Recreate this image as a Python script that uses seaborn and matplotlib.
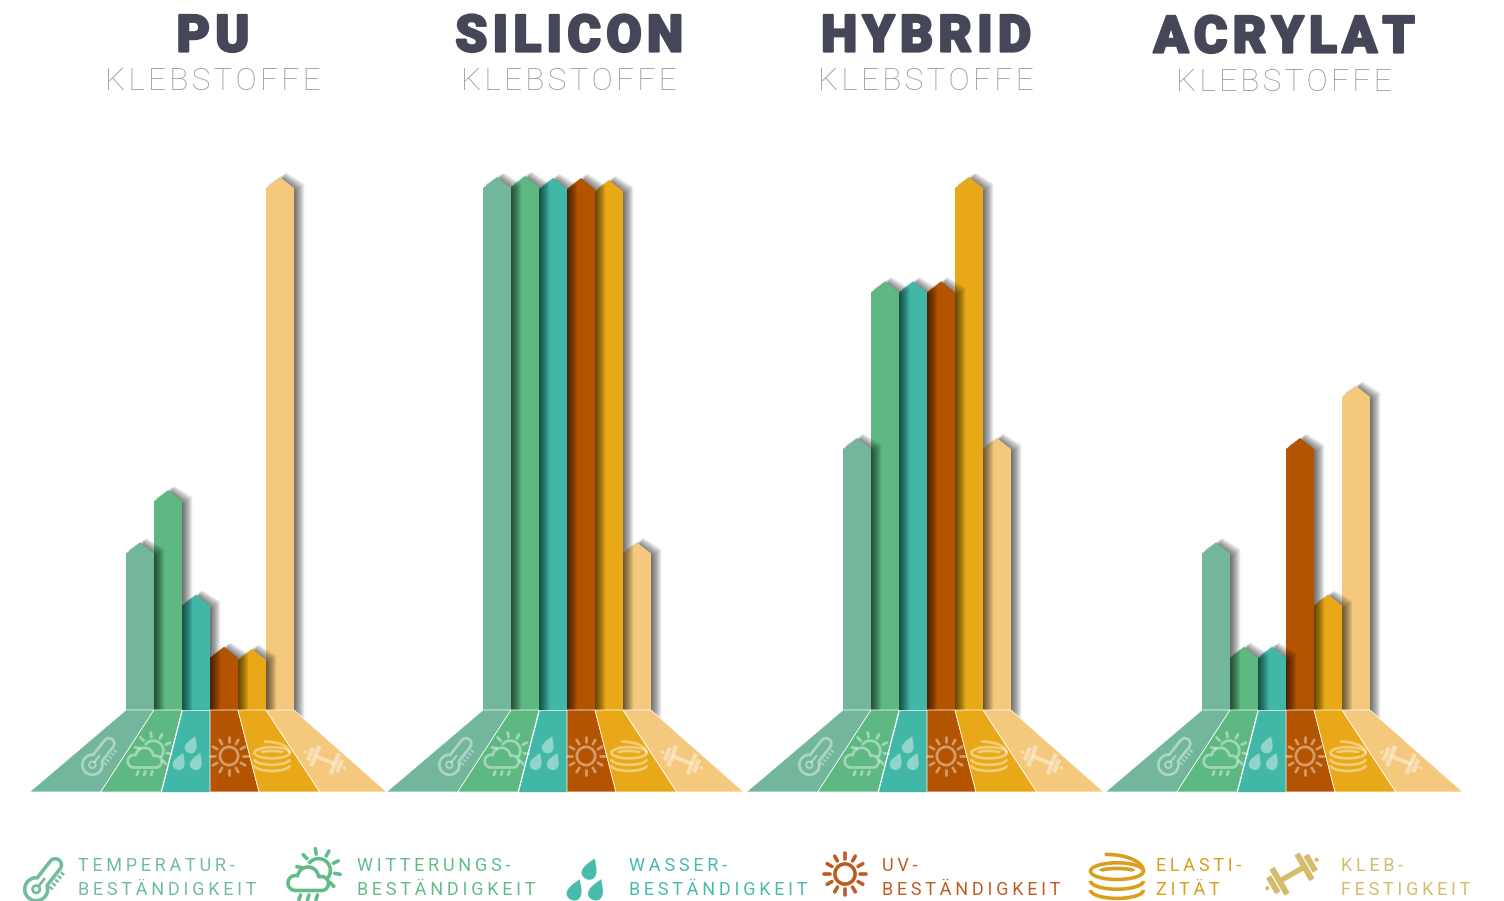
import numpy as np
import pandas as pd
import matplotlib
matplotlib.use("Agg")
import matplotlib.pyplot as plt
import matplotlib.patheffects as pe
import seaborn as sns
from matplotlib.patches import Polygon, Circle, Arc, Rectangle, FancyBboxPatch, Ellipse
from matplotlib.transforms import Affine2D

# Adhesive families and the rating of each property
families = ["PU", "SILICON", "HYBRID", "ACRYLAT"]
subtitle = "KLEBSTOFFE"
properties = ["Temperatur", "Witterung", "Wasser", "UV", "Elastizität", "Klebfestigkeit"]
pu_values = [30, 40, 20, 10, 9.6, 100]
silicon_values = [100, 100.2, 99.8, 99.8, 99.4, 30]
hybrid_values = [50, 80, 80, 80, 100, 50]
acrylat_values = [30, 10, 10, 50, 20, 60]
legend_lines = [("TEMPERATUR-", "BESTÄNDIGKEIT"), ("WITTERUNGS-", "BESTÄNDIGKEIT"),
                ("WASSER-", "BESTÄNDIGKEIT"), ("UV-", "BESTÄNDIGKEIT"),
                ("ELASTI-", "ZITÄT"), ("KLEB-", "FESTIGKEIT")]

bar_colors = ["#72B69B", "#5DB882", "#40B7A7", "#B45300", "#E9A817", "#F4C97E"]
legend_colors = ["#72BC9C", "#62BC88", "#47BBAC", "#BE5B22", "#D99E1C", "#D3BC6C"]
INK = "#454658"
SOFT = "#96969C"

W, H = 1504, 901
BASE_Y, FAN_Y = 710, 792
BAR_W = 28.0
PX_PER_UNIT = 5.22
panel_left = [126, 483, 843, 1202]
panel_center = [213, 569, 926, 1284]
fan_spread = [-96.5, -53.3, -21, 0, 21, 53.8, 92.8]

sns.set_theme(style="white")
fig = plt.figure(figsize=(W / 100, H / 100), dpi=100, facecolor="white")


def add_bar_panel(left, values):
    """Seaborn bars with pointed caps and soft drop shadows."""
    ax_left, ax_w = left - 2 * BAR_W, 10 * BAR_W
    ax_bottom, ax_top = BASE_Y + 8, 130
    ax = fig.add_axes([ax_left / W, 1 - ax_bottom / H, ax_w / W, (ax_bottom - ax_top) / H])
    df = pd.DataFrame({"property": properties, "value": values})
    sns.barplot(data=df, x="property", y="value", hue="property", order=properties,
                hue_order=properties, palette=bar_colors, saturation=1, width=1,
                dodge=False, legend=False, linewidth=0, ax=ax)
    ax.set_xlim(-2.5, 7.5)
    ax.set_ylim(-8 / PX_PER_UNIT, (BASE_Y - ax_top) / PX_PER_UNIT)
    ax.axis("off")
    ax.patch.set_alpha(0)
    ux, uy = 1 / BAR_W, 1 / PX_PER_UNIT
    bars = sorted(ax.patches, key=lambda b: b.get_x())
    for i, bar in enumerate(bars):
        z = 20 - 2 * i
        x0, x1, h = bar.get_x(), bar.get_x() + bar.get_width(), bar.get_height()
        bar.set_zorder(z)
        apex = h + 11 * uy
        ax.add_patch(Polygon([(x0, h - 1.5 * uy), (x0, h), ((x0 + x1) / 2, apex), (x1, h), (x1, h - 1.5 * uy)],
                             closed=True, fc=bar.get_facecolor(), ec="none", zorder=z))
        for g in np.arange(-3, 8, 0.5):
            sx0, sx1 = x0 + 3 * ux, x1 + (3 + g) * ux
            top = h + (0.8 * g - 1.5) * uy
            peak = apex + (0.8 * g - 1.5) * uy
            ax.add_patch(Polygon([(sx0, -8 * uy), (sx0, top), ((sx0 + sx1) / 2, peak),
                                  (sx1, top), (sx1, -(2 + g) * uy)], closed=True,
                                 fc="black", ec="none", alpha=0.035, zorder=z - 0.5))
    return ax


for left, vals in zip(panel_left, [pu_values, silicon_values, hybrid_values, acrylat_values]):
    add_bar_panel(left, vals)

# Pixel-space layer for the fans, icons and all lettering
ov = fig.add_axes([0, 0, 1, 1], zorder=50)
ov.set_xlim(0, W)
ov.set_ylim(H, 0)
ov.axis("off")
ov.patch.set_alpha(0)


def at(cx, cy, s, angle=0):
    return Affine2D().rotate_deg(angle).scale(s).translate(cx, cy) + ov.transData


def thermometer(cx, cy, s, color, alpha=1.0, lw=3.0):
    tr = at(cx, cy, s, 38)
    t1 = np.linspace(np.pi, 2 * np.pi, 20)
    cap = np.c_[0.27 * np.cos(t1), -0.72 + 0.27 * np.sin(t1)]
    a = np.arcsin(0.27 / 0.5)
    t2 = np.linspace(-np.pi / 2 + a, 3 * np.pi / 2 - a, 40)
    bulb = np.c_[0.5 * np.cos(t2), 0.62 + 0.5 * np.sin(t2)]
    ov.add_patch(Polygon(np.r_[cap, bulb], closed=True, fc="none", ec=color, lw=lw, alpha=alpha,
                         transform=tr, joinstyle="round"))
    ov.add_patch(Circle((0, 0.62), 0.16, fc="none", ec=color, lw=lw * 0.75, alpha=alpha, transform=tr))
    ov.plot([0, 0], [0.45, 0.05], color=color, lw=lw * 0.75, alpha=alpha, transform=tr, solid_capstyle="round")
    for k in range(5):
        y = -0.62 + k * 0.2
        ov.plot([0.38, 0.58], [y, y], color=color, lw=lw * 0.6, alpha=alpha, transform=tr, solid_capstyle="butt")


def cloud(cx, cy, s, color, alpha=1.0, lw=3.0):
    tr = at(cx, cy, s)
    kw = dict(ec=color, lw=lw, alpha=alpha, transform=tr, fc="none")
    ov.add_patch(Arc((0.3, -0.3), 0.95, 0.95, theta1=215, theta2=400, **kw))
    for deg in range(-170, 50, 36):
        r = np.deg2rad(deg)
        ov.plot([0.3 + 0.66 * np.cos(r), 0.3 + 0.88 * np.cos(r)],
                [-0.3 + 0.66 * np.sin(r), -0.3 + 0.88 * np.sin(r)],
                color=color, lw=lw, alpha=alpha, transform=tr, solid_capstyle="round")
    t = np.linspace(np.pi / 2, 3 * np.pi / 2, 16)
    left = np.c_[-0.62 + 0.3 * np.cos(t), 0.2 + 0.3 * np.sin(t)]
    t = np.linspace(np.pi * 1.05, np.pi * 1.95, 16)
    mid = np.c_[-0.12 + 0.42 * np.cos(t), -0.02 + 0.42 * np.sin(t)]
    t = np.linspace(-np.pi * 0.6, np.pi / 2, 16)
    right = np.c_[0.42 + 0.28 * np.cos(t), 0.22 + 0.28 * np.sin(t)]
    ov.add_patch(Polygon(np.r_[left, mid, right], closed=True, fc="none", ec=color, lw=lw,
                         alpha=alpha, transform=tr, joinstyle="round"))
    for x in (-0.42, -0.08, 0.26):
        ov.plot([x, x - 0.06], [0.68, 0.86], color=color, lw=lw, alpha=alpha, transform=tr, solid_capstyle="round")


def drops(cx, cy, s, color, alpha=1.0):
    t = np.linspace(0, 2 * np.pi, 70)
    shape = np.c_[0.5 * np.sin(t) * np.abs(np.sin(t / 2)) ** 1.3, -0.56 * np.cos(t) + 0.06]
    for dx, dy in [(0.2, -0.52), (-0.55, 0.52), (0.52, 0.52)]:
        ov.add_patch(Polygon(shape, closed=True, fc=color, ec="none", alpha=alpha,
                             transform=Affine2D().rotate_deg(22).translate(dx, dy).scale(s).translate(cx, cy) + ov.transData))


def sun(cx, cy, s, color, alpha=1.0, lw=3.0):
    tr = at(cx, cy, s)
    ov.add_patch(Circle((0, 0), 0.48, fc="none", ec=color, lw=lw, alpha=alpha, transform=tr))
    for k in range(12):
        a = np.deg2rad(k * 30)
        ov.plot([0.72 * np.cos(a), 0.98 * np.cos(a)], [0.72 * np.sin(a), 0.98 * np.sin(a)],
                color=color, lw=lw, alpha=alpha, transform=tr, solid_capstyle="round")


def coil(cx, cy, s, color, alpha=1.0, lw=3.0):
    tr = at(cx, cy, s)
    kw = dict(ec=color, lw=lw, alpha=alpha, transform=tr, fc="none")
    ov.add_patch(Ellipse((0, -0.18), 1.96, 0.62, **kw))
    ov.add_patch(Arc((0, -0.18), 1.2, 0.2, theta1=180, theta2=360, **kw))
    ov.add_patch(Arc((0, 0.18), 1.96, 0.62, theta1=0, theta2=180, **kw))
    ov.add_patch(Arc((0, 0.52), 1.96, 0.62, theta1=0, theta2=180, **kw))
    t = np.linspace(-np.pi / 2, 0, 20)
    ov.plot(-0.4 + 1.38 * np.cos(t), -0.18 + 0.62 * np.sin(t), color=color, lw=lw, alpha=alpha,
            transform=tr, solid_capstyle="round")


def dumbbell(cx, cy, s, color, angle, alpha=1.0):
    tr = at(cx, cy, s, angle)
    kw = dict(fc=color, ec="none", alpha=alpha, transform=tr)
    ov.add_patch(Rectangle((-0.5, -0.09), 1.0, 0.18, **kw))
    for sign in (-1, 1):
        for x, w, h in [(0.48, 0.2, 1.0), (0.72, 0.2, 0.62)]:
            xc = sign * x
            ov.add_patch(FancyBboxPatch((xc - w / 2 + 0.03, -h / 2 + 0.03), w - 0.06, h - 0.06,
                                        boxstyle="round,pad=0.03", mutation_scale=1, **kw))
        ov.add_patch(Circle((sign * 0.95, 0), 0.07, **kw))


def tracked(text, n):
    return ("\u200a" * n).join(text)


def icon_set(positions, sizes, colors, alpha, lw, bell_angle):
    thermometer(*positions[0], sizes[0], colors[0], alpha, lw)
    cloud(*positions[1], sizes[1], colors[1], alpha, lw)
    drops(*positions[2], sizes[2], colors[2], alpha)
    sun(*positions[3], sizes[3], colors[3], alpha, lw)
    coil(*positions[4], sizes[4], colors[4], alpha, lw)
    dumbbell(*positions[5], sizes[5], colors[5], bell_angle, alpha)


icon_dx = [-26, 21, 63, 103, 146, 199]
icon_y = [755, 757, 752, 756, 756, 760]
for left, center, fam in zip(panel_left, panel_center, families):
    for i, col in enumerate(bar_colors):
        top_l, top_r = left + i * BAR_W, left + (i + 1) * BAR_W
        ov.add_patch(Polygon([(top_l, BASE_Y), (top_r, BASE_Y),
                              (top_r + fan_spread[i + 1], FAN_Y), (top_l + fan_spread[i], FAN_Y)],
                             closed=True, fc=col, ec="#FFFFFF", lw=0.5))
    pos = [(left + d, y) for d, y in zip(icon_dx, icon_y)]
    icon_set(pos, [20, 21, 16, 19, 18, 22], ["white"] * 6, 0.42, 2.0, 22)
    dy = 1 if fam == "ACRYLAT" else 0
    ov.text(center, 51.5 + dy, tracked(fam, 1), ha="center", va="baseline", color=INK, fontsize=37,
            family=["Roboto", "DejaVu Sans"], weight="black",
            path_effects=[pe.withStroke(linewidth=1.6, foreground=INK)])
    ov.text(center, 90 + dy, tracked(subtitle, 1), ha="center", va="baseline", color=SOFT, fontsize=22.8,
            family=["Roboto", "DejaVu Sans"], weight="light")

legend_pos = [(45, 878), (311, 878), (587, 878), (845, 874), (1117, 876), (1292, 874)]
icon_set(legend_pos, [23, 25, 20, 21, 27, 30], legend_colors, 1.0, 2.6, -30)
legend_x = [78, 357, 629, 882, 1156, 1341]
for x, col, (l1, l2) in zip(legend_x, legend_colors, legend_lines):
    for y, line in ((871, l1), (895, l2)):
        ov.text(x, y, tracked(line, 2), ha="left", va="baseline", color=col, fontsize=13,
                family=["Roboto", "DejaVu Sans"], weight="normal")

fig.savefig("out.png", dpi=100, facecolor="white")
